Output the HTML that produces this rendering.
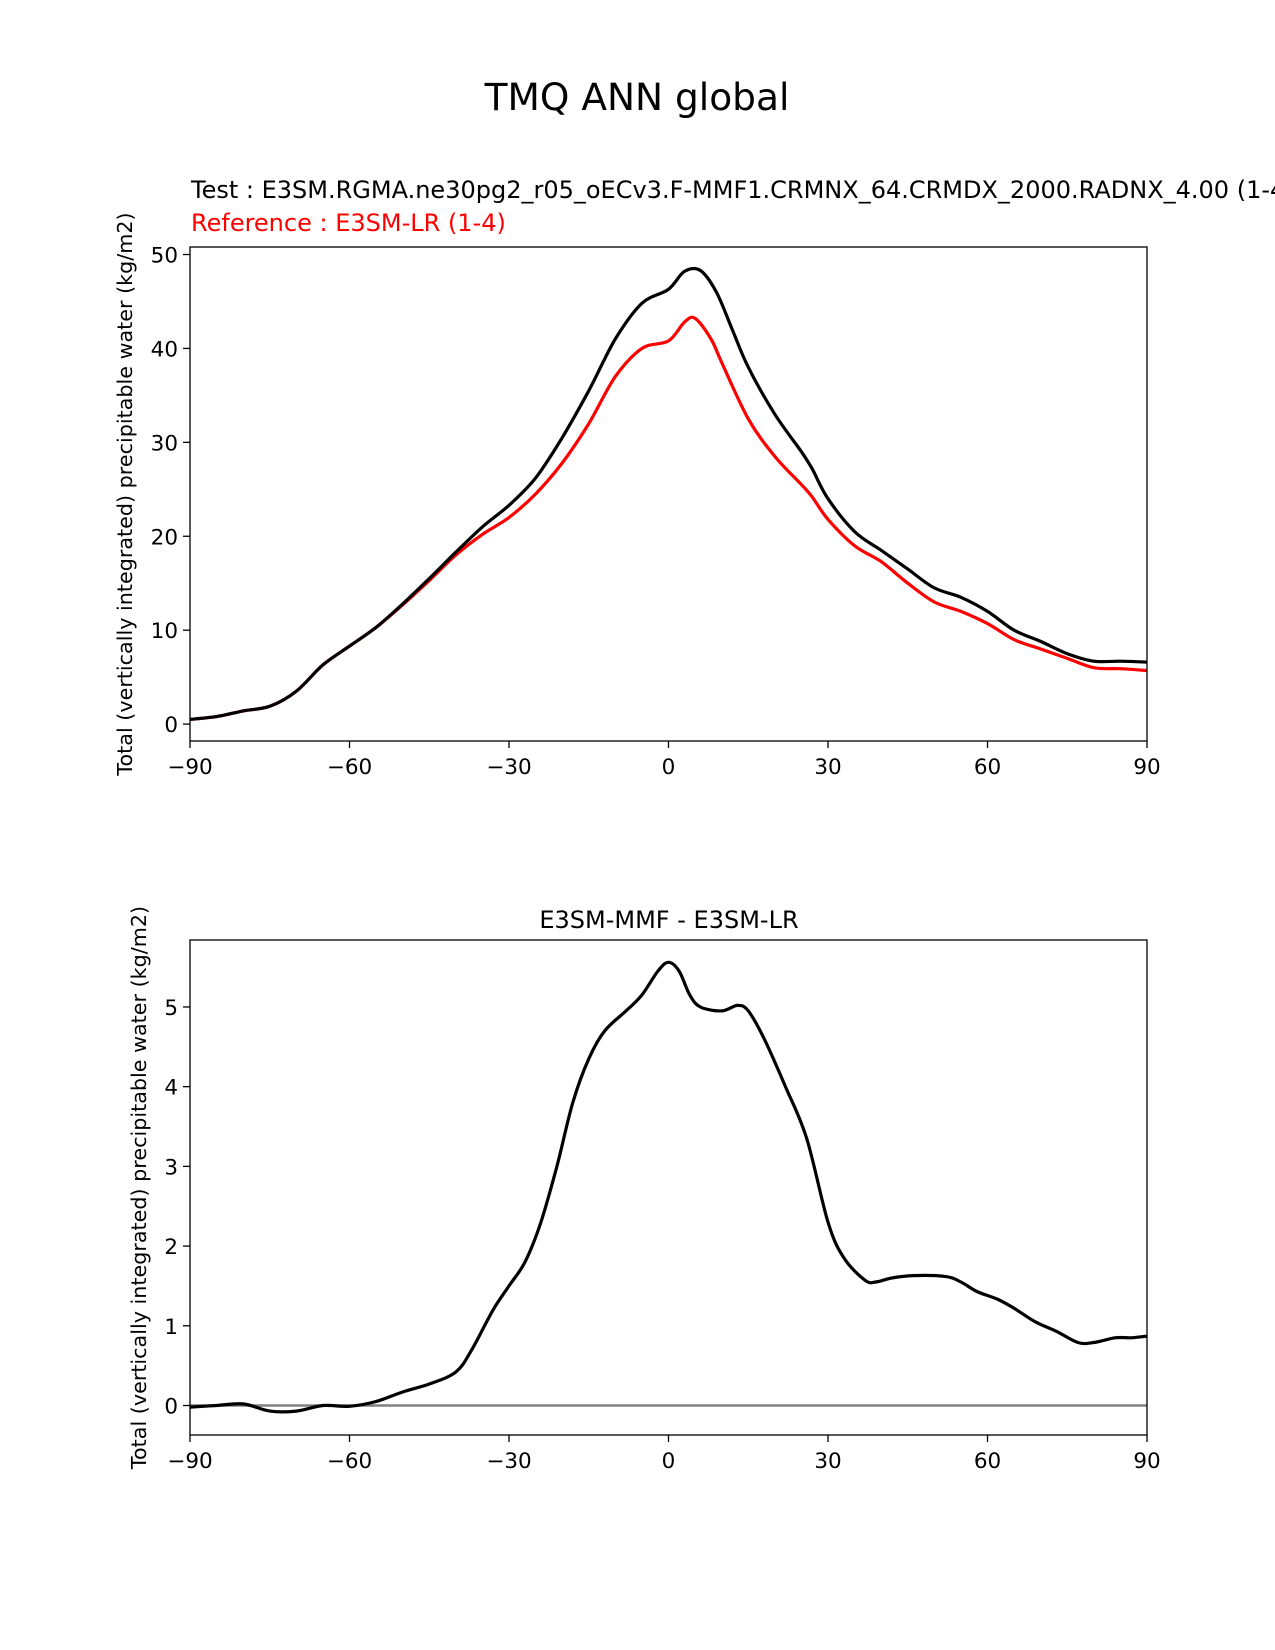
<!DOCTYPE html>
<html><head><meta charset="utf-8"><style>
html,body{margin:0;padding:0;background:#fff;}
svg{display:block;font-family:"DejaVu Sans","Liberation Sans",sans-serif;}
</style></head><body>
<svg id="fig" width="1275" height="1650" viewBox="0 0 1275 1650" xmlns="http://www.w3.org/2000/svg">
<text x="637" y="110" font-size="37.5" text-anchor="middle">TMQ ANN global</text>
<text x="191" y="198" font-size="24">Test : E3SM.RGMA.ne30pg2_r05_oECv3.F-MMF1.CRMNX_64.CRMDX_2000.RADNX_4.00 (1-4)</text>
<text x="191" y="231" font-size="24" fill="#ff0000">Reference : E3SM-LR (1-4)</text>
<text x="669" y="928" font-size="24" text-anchor="middle">E3SM-MMF - E3SM-LR</text>
<g id="top"></g>
<g id="bot"></g>
</svg>
<script>
const xTicks=[-90,-60,-30,0,30,60,90];
const xTickLabels=["\u221290","\u221260","\u221230","0","30","60","90"];
const topTicks=[0,10,20,30,40,50];
const botTicks=[0,1,2,3,4,5];
const testLat=[-90,-85,-80,-75,-70,-65,-60,-55,-50,-45,-40,-35,-30,-25,-20,-15,-10,-5,0,3,6,9,12,15,20,25,27,30,35,40,45,50,55,60,65,70,75,80,85,90];
const testVal=[0.5,0.8,1.4,1.9,3.5,6.3,8.3,10.3,12.8,15.5,18.3,21.0,23.3,26.2,30.5,35.5,41.0,44.8,46.3,48.2,48.3,46.0,42.0,38.0,33.0,29.0,27.2,24.0,20.5,18.5,16.5,14.5,13.5,12.0,10.0,8.8,7.5,6.7,6.7,6.6];
const refLat=[-90,-85,-80,-75,-70,-65,-60,-55,-50,-45,-40,-35,-30,-25,-20,-15,-10,-5,0,3,5,8,10,15,20,25,27,30,35,40,45,50,55,60,65,70,75,80,85,90];
const refVal=[0.5,0.8,1.4,1.9,3.5,6.3,8.3,10.3,12.7,15.3,18.0,20.2,22.0,24.5,27.8,32.0,37.0,40.0,40.8,42.8,43.2,41.0,38.5,32.5,28.5,25.5,24.2,21.8,19.0,17.3,15.0,13.0,12.0,10.7,9.0,8.0,7.0,6.0,5.9,5.7];
const diffLat=[-90,-85,-80,-75,-70,-65,-60,-55,-50,-45,-40,-37,-33,-30,-27,-24,-21,-18,-15,-12,-8,-5,-2,0,2,4,6,10,13,15,18,22,26,30,33,37,39,42,46,52,55,58,62,65,69,73,77,80,84,87,90];
const diffVal=[-0.02,0.0,0.02,-0.07,-0.07,0.0,-0.01,0.05,0.17,0.27,0.42,0.7,1.2,1.5,1.8,2.3,3.0,3.8,4.35,4.7,4.95,5.15,5.45,5.56,5.45,5.15,5.0,4.95,5.02,4.95,4.6,4.0,3.35,2.3,1.85,1.57,1.55,1.6,1.63,1.62,1.55,1.43,1.33,1.22,1.05,0.93,0.79,0.79,0.85,0.85,0.87];
const NS="http://www.w3.org/2000/svg";
function mk(p,tag,at){const e=document.createElementNS(NS,tag);for(const k in at)e.setAttribute(k,at[k]);p.appendChild(e);return e;}
function smooth(pts){let d="M"+pts[0][0].toFixed(1)+","+pts[0][1].toFixed(1);
for(let i=0;i<pts.length-1;i++){const p0=pts[Math.max(0,i-1)],p1=pts[i],p2=pts[i+1],p3=pts[Math.min(pts.length-1,i+2)];
const c1=[p1[0]+(p2[0]-p0[0])/6,p1[1]+(p2[1]-p0[1])/6],c2=[p2[0]-(p3[0]-p1[0])/6,p2[1]-(p3[1]-p1[1])/6];
d+="C"+c1[0].toFixed(1)+","+c1[1].toFixed(1)+" "+c2[0].toFixed(1)+","+c2[1].toFixed(1)+" "+p2[0].toFixed(1)+","+p2[1].toFixed(1);}return d;}
function axes(g,top,bot,ymin,ymax,yticks,ylabX){
const L=190,R=1147;
const x=v=>L+(v+90)/180*(R-L);
const y=v=>bot-(v-ymin)/(ymax-ymin)*(bot-top);
xTicks.forEach((t,i)=>{
const tk=mk(g,"line",{x1:x(t),x2:x(t),y1:bot,y2:bot+7,stroke:"#000","stroke-width":1.3});


const tl=mk(g,"text",{x:x(t),y:bot+33,"font-size":21.5,"text-anchor":"middle"});tl.textContent=xTickLabels[i];

});
yticks.forEach(t=>{
const tk=mk(g,"line",{x1:L-7,x2:L,y1:y(t),y2:y(t),stroke:"#000","stroke-width":1.3});


const tl=mk(g,"text",{x:L-12,y:y(t)+8,"font-size":21.5,"text-anchor":"end"});tl.textContent=String(t);

});
const yl=mk(g,"text",{x:0,y:0,"font-size":20.7,"text-anchor":"middle",transform:"translate("+ylabX+","+((top+bot)/2)+") rotate(-90)"});
yl.textContent="Total (vertically integrated) precipitable water (kg/m2)";


return {x,y,L,R,top,bot};}
function frame(g,a){const f=mk(g,"rect",{x:a.L,y:a.top,width:a.R-a.L,height:a.bot-a.top,fill:"none",stroke:"#000","stroke-width":1.3});

}
const gt=document.getElementById("top");
const a1=axes(gt,247,741,-1.8,50.8,topTicks,132);
const pr=mk(gt,"path",{d:smooth(refLat.map((l,i)=>[a1.x(l),a1.y(refVal[i])])),fill:"none",stroke:"#ff0000","stroke-width":3.2});


const pt=mk(gt,"path",{d:smooth(testLat.map((l,i)=>[a1.x(l),a1.y(testVal[i])])),fill:"none",stroke:"#000","stroke-width":3.2});


frame(gt,a1);
const gb=document.getElementById("bot");
const a2=axes(gb,940,1435,-0.37,5.84,botTicks,146);
const zl=mk(gb,"line",{x1:a2.L,x2:a2.R,y1:a2.y(0),y2:a2.y(0),stroke:"#808080","stroke-width":2.6});


const pd=mk(gb,"path",{d:smooth(diffLat.map((l,i)=>[a2.x(l),a2.y(diffVal[i])])),fill:"none",stroke:"#000","stroke-width":3.2});


frame(gb,a2);
</script>
</body></html>
